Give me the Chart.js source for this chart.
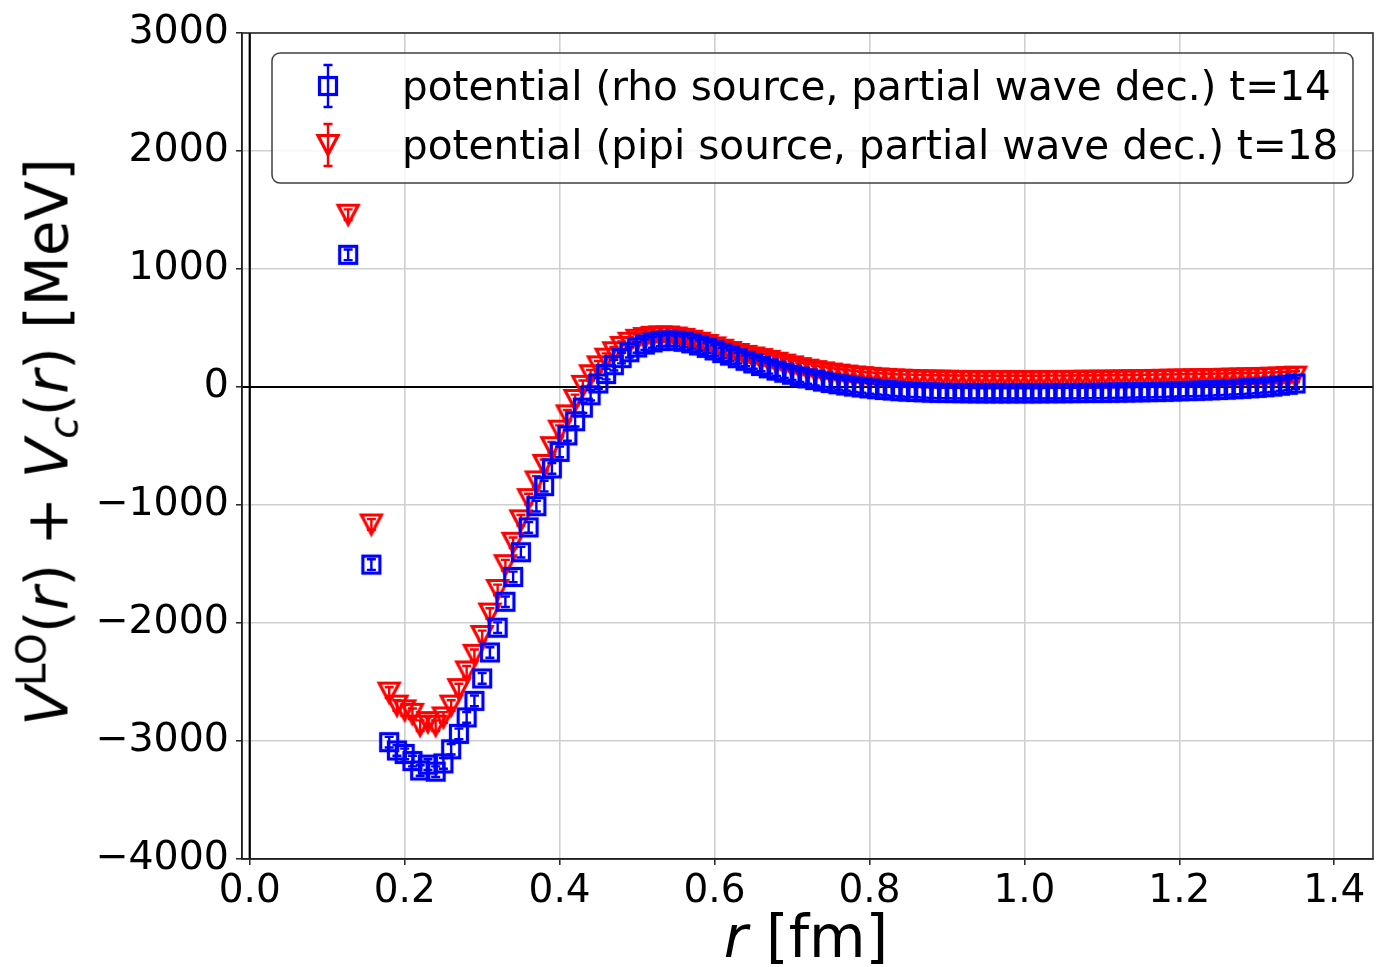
<!DOCTYPE html>
<html>
<head>
<meta charset="utf-8">
<script src="https://cdn.jsdelivr.net/npm/chart.js@4.4.1/dist/chart.umd.min.js"></script>
<style>
  body { margin: 0; background: #fff; }
  #wrap { position: relative; width: 1392px; height: 967px; font-family: 'DejaVu Sans', sans-serif; }
  #xlab { position: absolute; left: 806px; top: 937px; transform: translate(-50%, -50%); font-size: 58px; white-space: nowrap; line-height: 1; }
  #ylab { position: absolute; left: 48px; top: 442px; transform: translate(-50%, -50%) rotate(-90deg); font-size: 58px; white-space: nowrap; line-height: 1; }
  .sup { font-size: 70%; vertical-align: 0.55em; }
  .sub { font-size: 70%; vertical-align: -0.25em; }
</style>
</head>
<body>
<div id="wrap">
  <canvas id="chart" width="1392" height="967"></canvas>
  <div id="xlab"><i>r</i> [fm]</div>
  <div id="ylab"><i>V</i><span class="sup">LO</span>(<i>r</i>) + <i>V</i><span class="sub"><i>c</i></span>(<i>r</i>) [MeV]</div>
</div>
<script>
// r [fm]
const rValues = [
  0.127, 0.157,
  0.18, 0.19, 0.20, 0.21, 0.22, 0.23, 0.24, 0.25, 0.26, 0.27,
  0.28, 0.29, 0.30, 0.31, 0.32, 0.33, 0.34, 0.35, 0.36, 0.37,
  0.38, 0.39, 0.40, 0.41, 0.42, 0.43, 0.44, 0.45, 0.46, 0.47,
  0.48, 0.49, 0.50, 0.51, 0.52, 0.53, 0.54, 0.55, 0.56, 0.57,
  0.58, 0.59, 0.60, 0.61, 0.62, 0.63, 0.64, 0.65, 0.66, 0.67,
  0.68, 0.69, 0.70, 0.71, 0.72, 0.73, 0.74, 0.75, 0.76, 0.77,
  0.78, 0.79, 0.80, 0.81, 0.82, 0.83, 0.84, 0.85, 0.86, 0.87,
  0.88, 0.89, 0.90, 0.91, 0.92, 0.93, 0.94, 0.95, 0.96, 0.97,
  0.98, 0.99, 1.00, 1.01, 1.02, 1.03, 1.04, 1.05, 1.06, 1.07,
  1.08, 1.09, 1.10, 1.11, 1.12, 1.13, 1.14, 1.15, 1.16, 1.17,
  1.18, 1.19, 1.20, 1.21, 1.22, 1.23, 1.24, 1.25, 1.26, 1.27,
  1.28, 1.29, 1.30, 1.31, 1.32, 1.33, 1.34, 1.35
];

// rho source, t=14  [MeV]
const rhoValues = [
  1120, -1505,
  -3010, -3080, -3110, -3170, -3250, -3200, -3260, -3190, -3070, -2940,
  -2800, -2660, -2470, -2250, -2040, -1820, -1610, -1400, -1190, -1010,
  -840, -690, -550, -410, -290, -175, -70, 30, 110, 185,
  245, 295, 335, 360, 378, 390, 395, 392, 383, 370,
  352, 332, 310, 288, 266, 244, 222, 200, 178, 158,
  139, 121, 104, 88, 73, 59, 46, 34, 23, 13,
  4, -4, -12, -19, -25, -30, -35, -39, -42, -45,
  -47, -49, -50, -51, -52, -52, -53, -53, -53, -53,
  -53, -53, -53, -53, -53, -52, -52, -52, -51, -51,
  -50, -50, -49, -48, -47, -46, -45, -44, -43, -42,
  -40, -38, -36, -34, -32, -30, -28, -25, -22, -19,
  -15, -11, -7, -2, 4, 11, 19, 30
];

// pipi source, t=18  [MeV]
const pipiValues = [
  1460, -1165,
  -2590, -2700, -2740, -2770, -2870, -2840, -2870, -2800, -2700, -2560,
  -2410, -2270, -2110, -1920, -1720, -1510, -1320, -1130, -950, -800,
  -660, -510, -370, -240, -110, 10, 100, 175, 240, 295,
  340, 375, 400, 415, 425, 430, 428, 420, 408, 392,
  375, 356, 336, 316, 297, 280, 264, 250, 237, 222,
  206, 190, 175, 160, 147, 135, 124, 114, 105, 97,
  90, 84, 78, 73, 69, 65, 62, 60, 58, 56,
  55, 54, 53, 52, 51, 51, 50, 50, 50, 50,
  50, 50, 50, 50, 50, 51, 51, 51, 52, 52,
  53, 53, 54, 54, 55, 56, 57, 58, 59, 60,
  61, 62, 63, 64, 65, 66, 67, 68, 70, 71,
  72, 74, 75, 77, 79, 81, 84, 88
];

const rhoErr = 45;
const pipiErr = 45;

const xTicks = [0.0, 0.2, 0.4, 0.6, 0.8, 1.0, 1.2, 1.4];
const yTicks = [-4000, -3000, -2000, -1000, 0, 1000, 2000, 3000];

const legendLabels = [
  'potential (rho source, partial wave dec.) t=14',
  'potential (pipi source, partial wave dec.) t=18'
];

const BLUE = '#0000ff';
const RED = '#ff0000';

// open markers like matplotlib 's' and 'v'
function squareMarker(color) {
  const c = document.createElement('canvas');
  c.width = c.height = 26;
  const g = c.getContext('2d');
  g.strokeStyle = color;
  g.lineWidth = 3.2;
  g.strokeRect(4.5, 4.5, 17, 17);
  return c;
}
function triangleMarker(color) {
  const c = document.createElement('canvas');
  c.width = c.height = 30;
  const g = c.getContext('2d');
  g.strokeStyle = color;
  g.lineWidth = 3.2;
  g.lineJoin = 'miter';
  g.beginPath();
  g.moveTo(15 - 10, 15 - 9.5);
  g.lineTo(15 + 10, 15 - 9.5);
  g.lineTo(15, 15 + 9.5);
  g.closePath();
  g.stroke();
  return c;
}

const blueSquare = squareMarker(BLUE);
const redTriangle = triangleMarker(RED);

function errBar(ctx, x, y1, y2, color) {
  ctx.strokeStyle = color;
  ctx.lineWidth = 2.4;
  ctx.beginPath();
  ctx.moveTo(x, y1); ctx.lineTo(x, y2);
  ctx.moveTo(x - 4.5, y1); ctx.lineTo(x + 4.5, y1);
  ctx.moveTo(x - 4.5, y2); ctx.lineTo(x + 4.5, y2);
  ctx.stroke();
}

const extras = {
  id: 'extras',
  beforeDatasetsDraw(chart) {
    const { ctx, chartArea: a, scales: { x, y } } = chart;
    ctx.save();
    ctx.strokeStyle = '#000';
    ctx.lineWidth = 2.2;
    const y0 = y.getPixelForValue(0);
    const x0 = x.getPixelForValue(0);
    ctx.beginPath();
    ctx.moveTo(a.left, y0); ctx.lineTo(a.right, y0);
    ctx.moveTo(x0, a.top); ctx.lineTo(x0, a.bottom);
    ctx.stroke();
    ctx.restore();
  },
  afterDatasetDraw(chart, args) {
    const { ctx, scales: { x, y } } = chart;
    const ds = chart.data.datasets[args.index];
    ctx.save();
    ds.data.forEach(p => {
      const px = x.getPixelForValue(p.x);
      errBar(ctx, px, y.getPixelForValue(p.y + ds.err), y.getPixelForValue(p.y - ds.err), ds.borderColor);
    });
    ctx.restore();
  },
  afterDraw(chart) {
    const { ctx, chartArea: a } = chart;
    ctx.save();
    // box frame
    ctx.strokeStyle = '#222';
    ctx.lineWidth = 1.5;
    ctx.strokeRect(a.left, a.top, a.right - a.left, a.bottom - a.top);

    // legend
    const lx = 272, ly = 53, lw = 1081, lh = 130, rad = 8;
    ctx.beginPath();
    ctx.roundRect(lx, ly, lw, lh, rad);
    ctx.fillStyle = 'rgba(255,255,255,0.8)';
    ctx.fill();
    ctx.strokeStyle = '#404040';
    ctx.lineWidth = 1.5;
    ctx.stroke();

    const rows = [86, 145];
    const hx = 328;
    errBar(ctx, hx, rows[0] - 21, rows[0] + 21, BLUE);
    ctx.drawImage(blueSquare, hx - 13, rows[0] - 13);
    errBar(ctx, hx, rows[1] - 21, rows[1] + 21, RED);
    ctx.drawImage(redTriangle, hx - 15, rows[1] - 15);

    ctx.fillStyle = '#000';
    ctx.font = '40.6px "DejaVu Sans"';
    ctx.textBaseline = 'middle';
    ctx.textAlign = 'left';
    ctx.fillText(legendLabels[0], 402, rows[0] + 3);
    ctx.fillText(legendLabels[1], 402, rows[1] + 3);
    ctx.restore();
  }
};

Chart.defaults.font.family = '"DejaVu Sans"';
Chart.defaults.color = '#000';

new Chart(document.getElementById('chart'), {
  type: 'scatter',
  data: {
    datasets: [
      {
        label: legendLabels[0],
        data: rValues.map((r, i) => ({ x: r, y: rhoValues[i] })),
        borderColor: BLUE,
        backgroundColor: 'rgba(0,0,0,0)',
        pointStyle: blueSquare,
        pointRadius: 10,
        err: rhoErr
      },
      {
        label: legendLabels[1],
        data: rValues.map((r, i) => ({ x: r, y: pipiValues[i] })),
        borderColor: RED,
        backgroundColor: 'rgba(0,0,0,0)',
        pointStyle: redTriangle,
        pointRadius: 10,
        err: pipiErr
      }
    ]
  },
  options: {
    responsive: false,
    animation: false,
    layout: { padding: { top: 33, right: 19, left: 0, bottom: 0 } },
    plugins: { legend: { display: false }, tooltip: { enabled: false } },
    scales: {
      x: {
        type: 'linear',
        min: -0.01,
        max: 1.45,
        afterBuildTicks: s => { s.ticks = xTicks.map(v => ({ value: v })); },
        afterFit: s => { s.height = 108; },
        ticks: {
          font: { size: 39 },
          color: '#000',
          padding: 3,
          maxRotation: 0,
          autoSkip: false,
          callback: v => Number(v).toFixed(1)
        },
        grid: { color: '#cfcfcf', lineWidth: 1.6, tickColor: '#222', tickLength: 6, tickWidth: 1.5 },
        border: { display: true, color: '#222', width: 1.5 }
      },
      y: {
        min: -4000,
        max: 3000,
        afterBuildTicks: s => { s.ticks = yTicks.map(v => ({ value: v })); },
        afterFit: s => { s.width = 242; },
        ticks: {
          font: { size: 39.5 },
          color: '#000',
          padding: 7,
          autoSkip: false,
          callback: v => (v < 0 ? '\u2212' + Math.abs(v) : String(v))
        },
        grid: { color: '#cfcfcf', lineWidth: 1.6, tickColor: '#222', tickLength: 6, tickWidth: 1.5 },
        border: { display: true, color: '#222', width: 1.5 }
      }
    }
  },
  plugins: [extras]
});
</script>
</body>
</html>
